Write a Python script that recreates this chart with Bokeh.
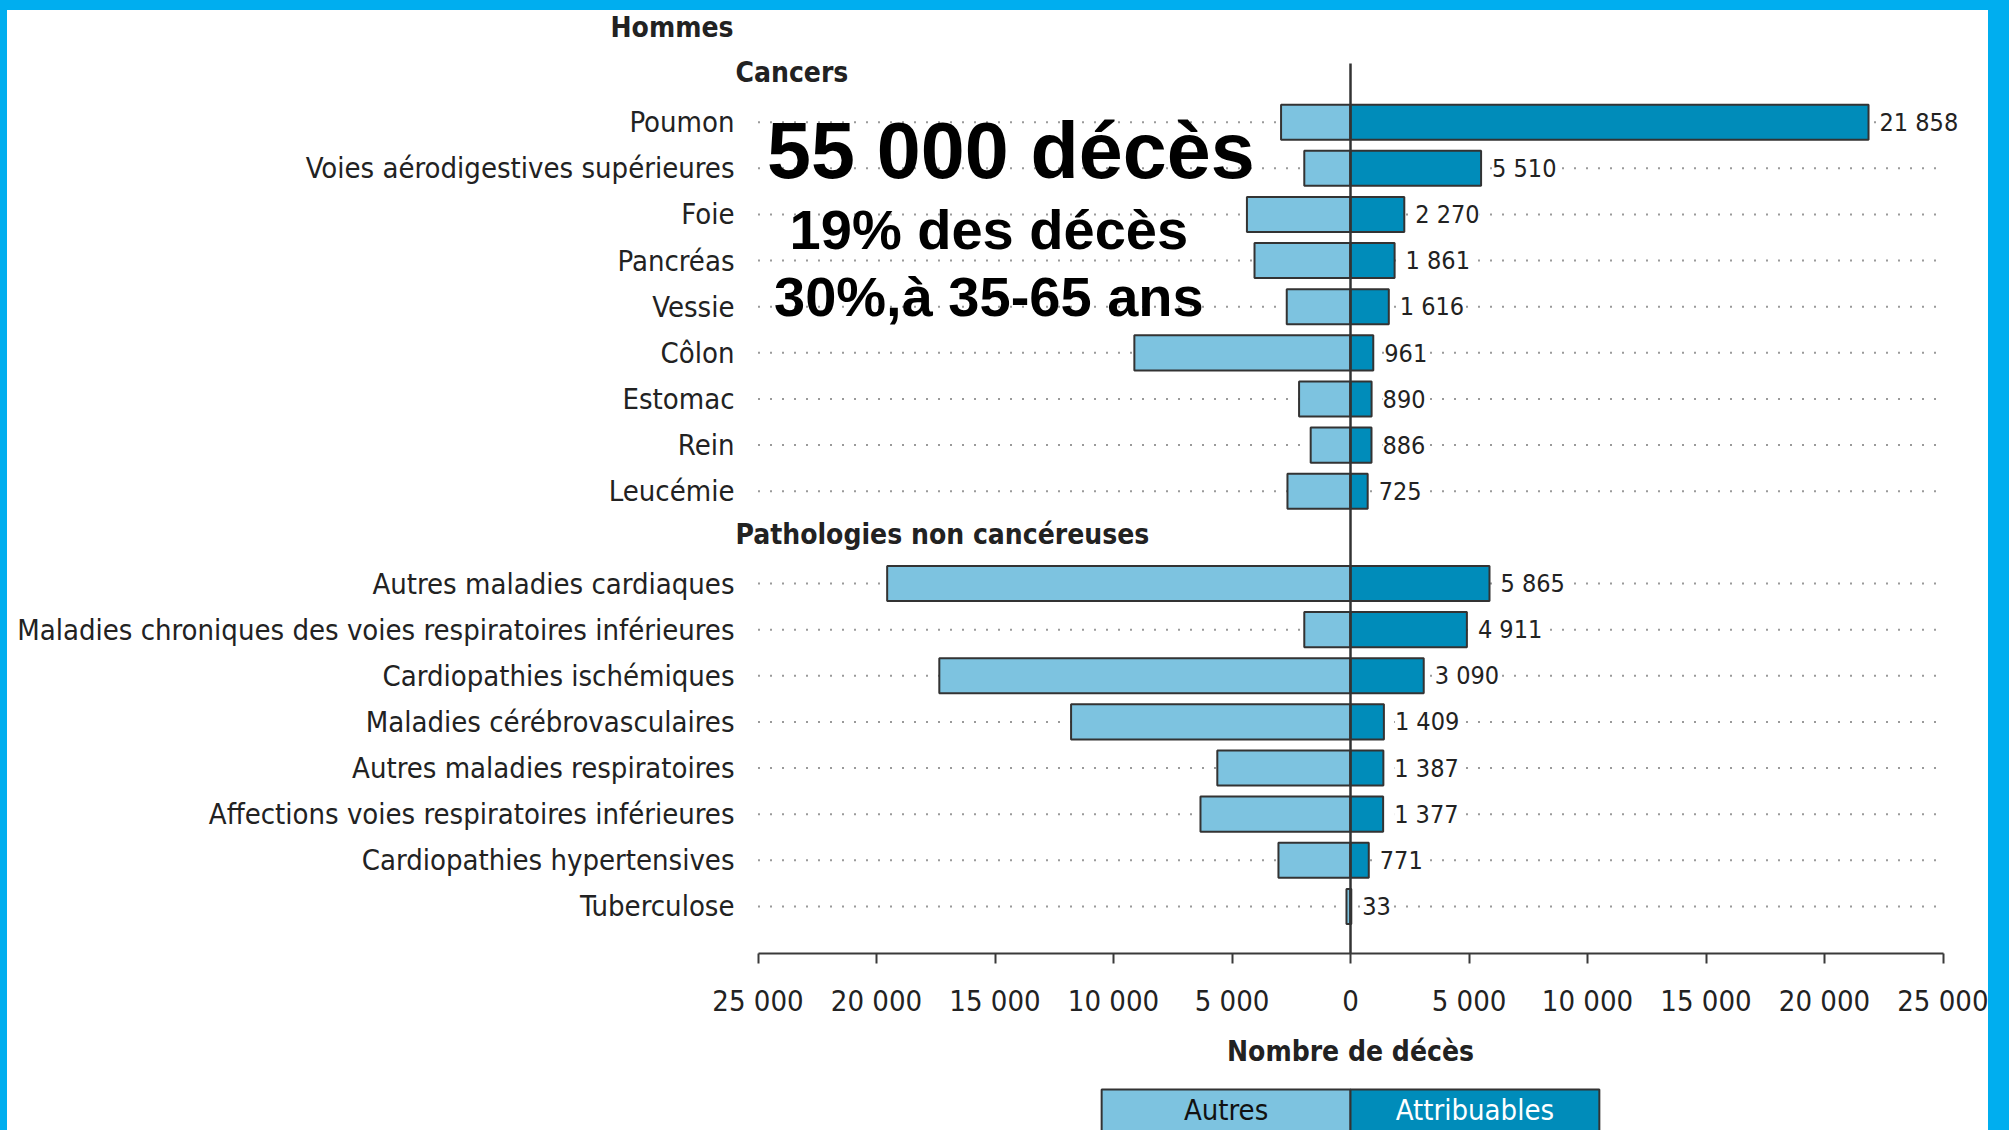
from bokeh.plotting import figure
from bokeh.models import Range1d, FixedTicker, Label, Spacer
from bokeh.layouts import row, column
from bokeh.core.properties import value
from bokeh.embed import file_html
from bokeh.resources import INLINE

# ---------------- data ----------------
sex_title = "Hommes"
group_titles = ["Cancers", "Pathologies non cancéreuses"]

cancer_causes = ["Poumon", "Voies aérodigestives supérieures", "Foie", "Pancréas",
                 "Vessie", "Côlon", "Estomac", "Rein", "Leucémie"]
cancer_attribuables = [21858, 5510, 2270, 1861, 1616, 961, 890, 886, 725]
cancer_autres = [2930, 1950, 4370, 4050, 2690, 9120, 2170, 1680, 2660]

other_causes = ["Autres maladies cardiaques",
                "Maladies chroniques des voies respiratoires inférieures",
                "Cardiopathies ischémiques", "Maladies cérébrovasculaires",
                "Autres maladies respiratoires",
                "Affections voies respiratoires inférieures",
                "Cardiopathies hypertensives", "Tuberculose"]
other_attribuables = [5865, 4911, 3090, 1409, 1387, 1377, 771, 33]
other_autres = [19550, 1950, 17350, 11790, 5620, 6330, 3040, 170]

x_ticks = [-25000, -20000, -15000, -10000, -5000, 0, 5000, 10000, 15000, 20000, 25000]
x_tick_labels = ["25 000", "20 000", "15 000", "10 000", "5 000", "0",
                 "5 000", "10 000", "15 000", "20 000", "25 000"]
x_title = "Nombre de décès"
legend_labels = ["Autres", "Attribuables"]
headline = ["55 000 décès", "19% des décès", "30%,à 35-65 ans"]

# ---------------- style / layout constants ----------------
NARROW = "DejaVu Sans Condensed, Liberation Sans Narrow, sans-serif"
WIDE = "Liberation Sans, Arial, sans-serif"
LIGHT = "#7DC3E0"
DARK = "#008CBA"
EDGE = "#333333"
TXT = "#222222"
FRAME_BLUE = "#00AEEF"

PAGE_W, PAGE_H = 2009, 1130
BLUE_T, BLUE_L, BLUE_R = 10, 7, 21
W = PAGE_W - BLUE_L - BLUE_R      # chart figures width
H_HEAD = 36
H_MAIN = 1041
H_LEG = PAGE_H - BLUE_T - H_HEAD - H_MAIN
BORDER_L, BORDER_R = 727, 22
BORDER_T, BORDER_B = 0, 134
PX_PER_UNIT = 118.5 / 5000.0
ROW_PX = 46.13
ROW0_Y = 29.44 - BLUE_T - H_HEAD  # fig-pixel y of row 0 in the main figure

frame_w = W - BORDER_L - BORDER_R
half_span = frame_w / 2 / PX_PER_UNIT
x_lo, x_hi = -half_span, half_span
y_top = (BORDER_T - ROW0_Y) / ROW_PX
y_bot = (H_MAIN - BORDER_B - ROW0_Y) / ROW_PX

# rows: 0 = sex title, 1 = first group header, then causes, next header, causes
cat_rows, cat_names, autres, attrib, header_rows = [], [], [], [], []
r = 1
for causes, att, aut in [(cancer_causes, cancer_attribuables, cancer_autres),
                         (other_causes, other_attribuables, other_autres)]:
    header_rows.append(r)
    r += 1
    for c, a1, a2 in zip(causes, att, aut):
        cat_rows.append(r)
        cat_names.append(c)
        attrib.append(a1)
        autres.append(a2)
        r += 1

neg_autres = [-a for a in autres]
val_labels = [f"{v:,}".replace(",", " ") for v in attrib]

# ---------------- main chart ----------------
p = figure(width=W, height=H_MAIN, x_range=Range1d(x_lo, x_hi),
           y_range=Range1d(y_bot, y_top), output_backend="svg",
           toolbar_location=None, min_border_left=BORDER_L,
           min_border_right=BORDER_R, min_border_top=BORDER_T,
           min_border_bottom=BORDER_B)
p.outline_line_color = None
p.xgrid.visible = False
p.ygrid.visible = False
p.background_fill_color = "white"
p.border_fill_color = "white"

# y axis = category labels
ya = p.yaxis[0]
ya.ticker = FixedTicker(ticks=cat_rows)
ya.major_label_overrides = {rr: n for rr, n in zip(cat_rows, cat_names)}
ya.axis_line_color = None
ya.major_tick_line_color = None
ya.minor_tick_line_color = None
ya.major_tick_out = 0
ya.major_tick_in = 0
ya.major_label_standoff = 0
ya.major_label_text_font = NARROW
ya.major_label_text_font_size = "29px"
ya.major_label_text_color = TXT

# x axis
xa = p.xaxis[0]
xa.ticker = FixedTicker(ticks=x_ticks)
xa.major_label_overrides = {t: l for t, l in zip(x_ticks, x_tick_labels)}
xa.bounds = (x_ticks[0], x_ticks[-1])
xa.axis_line_width = 2
xa.axis_line_color = "#3a3a3a"
xa.major_tick_line_width = 2
xa.major_tick_line_color = "#3a3a3a"
xa.major_tick_out = 10
xa.major_tick_in = 0
xa.minor_tick_line_color = None
xa.major_label_standoff = 20
xa.major_label_text_font = NARROW
xa.major_label_text_font_size = "29px"
xa.major_label_text_color = TXT
xa.axis_label = x_title
xa.axis_label_standoff = 14
xa.axis_label_text_font = NARROW
xa.axis_label_text_font_style = "bold"
xa.axis_label_text_font_size = "28px"
xa.axis_label_text_color = TXT

# dotted row guides
p.segment(x0=[x_ticks[0]] * len(cat_rows), y0=cat_rows,
          x1=[x_ticks[-1]] * len(cat_rows), y1=cat_rows,
          line_color="#9a9a9a", line_width=2, line_dash="2 10")

# bars
p.hbar(y=cat_rows, left=neg_autres, right=0, height=0.76,
       fill_color=LIGHT, line_color=EDGE, line_width=2)
p.hbar(y=cat_rows, left=0, right=attrib, height=0.76,
       fill_color=DARK, line_color=EDGE, line_width=2)

# zero line
p.segment(x0=[0], y0=[header_rows[0] - 0.27], x1=[0], y1=[y_bot],
          line_color=EDGE, line_width=2.5)

# value labels
p.text(x=attrib, y=cat_rows, text=val_labels, x_offset=11,
       text_align="left", text_baseline="middle",
       text_font=value(NARROW), text_font_size="25px", text_color=TXT,
       background_fill_color="white")

# group headers, starting where the category labels end
for hr, t in zip(header_rows, group_titles):
    p.add_layout(Label(x=x_lo, y=hr - 0.07, x_offset=1, text=t,
                       text_align="left", text_baseline="middle", text_font=NARROW,
                       text_font_style="bold", text_font_size="28px", text_color=TXT))

# headline overlay
for (hx, hy, size), t in zip([(-14333, 2.61, "79px"), (-15260, 4.33, "56px"),
                              (-15260, 5.78, "56px")], headline):
    p.add_layout(Label(x=hx, y=hy, text=t, text_align="center",
                       text_baseline="middle", text_font=WIDE,
                       text_font_style="bold", text_font_size=size,
                       text_color="black"))

# ---------------- header strip ("Hommes", as a bold axis label) ----------------
HEAD_Y = H_HEAD - 17
ph = figure(width=W, height=H_HEAD, x_range=p.x_range, y_range=Range1d(0, H_HEAD),
            output_backend="svg", toolbar_location=None, x_axis_type=None,
            min_border_left=BORDER_L, min_border_right=BORDER_R,
            min_border_top=0, min_border_bottom=0)
ph.outline_line_color = None
ph.xgrid.visible = False
ph.ygrid.visible = False
hy_axis = ph.yaxis[0]
hy_axis.ticker = FixedTicker(ticks=[HEAD_Y])
hy_axis.major_label_overrides = {HEAD_Y: sex_title}
hy_axis.axis_line_color = None
hy_axis.major_tick_line_color = None
hy_axis.minor_tick_line_color = None
hy_axis.major_tick_out = 0
hy_axis.major_tick_in = 0
hy_axis.major_label_standoff = 1
hy_axis.major_label_text_font = NARROW
hy_axis.major_label_text_font_style = "bold"
hy_axis.major_label_text_font_size = "28px"
hy_axis.major_label_text_color = TXT

# ---------------- legend strip (shares the x scale) ----------------
LEG_HALF = 10500
p2 = figure(width=W, height=H_LEG, x_range=p.x_range, y_range=Range1d(0, 1.05),
            output_backend="svg", toolbar_location=None, x_axis_type=None,
            y_axis_type=None, min_border_left=BORDER_L, min_border_right=BORDER_R,
            min_border_top=0, min_border_bottom=0)
p2.outline_line_color = None
p2.xgrid.visible = False
p2.ygrid.visible = False
p2.quad(left=[-LEG_HALF, 0], right=[0, LEG_HALF], top=[1, 1], bottom=[-1, -1],
        fill_color=[LIGHT, DARK], line_color=EDGE, line_width=2)
p2.text(x=[-LEG_HALF / 2, LEG_HALF / 2], y=[0.49, 0.49], text=legend_labels,
        text_align="center", text_baseline="middle", text_font=value(NARROW),
        text_font_size="29px", text_color=["#111111", "white"])

def blue(w, h):
    return Spacer(width=w, height=h, styles={"background-color": FRAME_BLUE})

inner_h = H_HEAD + H_MAIN + H_LEG
layout = column(
    blue(PAGE_W, BLUE_T),
    row(blue(BLUE_L, inner_h), column(ph, p, p2, spacing=0),
        blue(BLUE_R, inner_h), spacing=0),
    spacing=0)

open("out.html", "w").write(file_html(layout, INLINE))
